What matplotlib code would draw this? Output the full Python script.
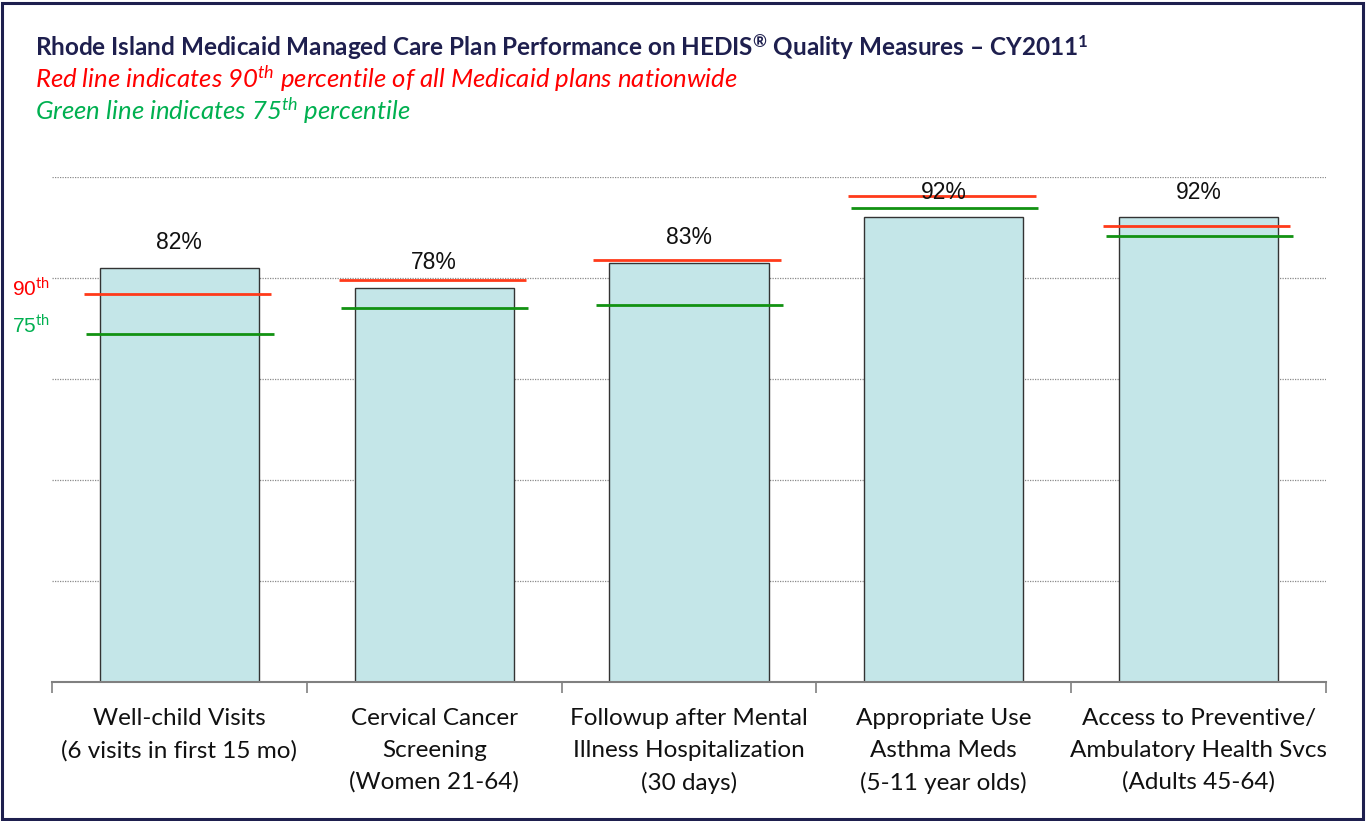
# hedis_bars.py
# RI Medicaid plan performance vs national percentiles
import matplotlib
matplotlib.use("Agg")
import matplotlib.pyplot as plt
from matplotlib.patches import Rectangle
import matplotlib.transforms as mtrans

plt.rcParams["font.family"] = ["Lato", "DejaVu Sans"]
plt.rcParams["mathtext.fontset"] = "custom"
plt.rcParams["mathtext.rm"] = "Lato"
plt.rcParams["mathtext.it"] = "Lato:italic"
plt.rcParams["mathtext.bf"] = "Lato:bold"

categories = [
    "Well-child Visits\n(6 visits in first 15 mo)\n",
    "Cervical Cancer\nScreening\n(Women 21-64)",
    "Followup after Mental\nIllness Hospitalization\n(30 days)",
    "Appropriate Use\nAsthma Meds\n(5-11 year olds)",
    "Access to Preventive/\nAmbulatory Health Svcs\n(Adults 45-64)",
]
plan_rate = [82, 78, 83, 92, 92]          # bar values, %
p90 = [76.8, 79.6, 83.6, 96.2, 90.3]      # red lines
p75 = [68.9, 74.1, 74.7, 93.9, 88.3]      # green lines
yticks = [20, 40, 60, 80, 100]

NAVY = "#1E1F4E"
BAR_FILL = "#C4E6E8"
RED_LINE = "#FF3A1A"
GREEN_LINE = "#129212"
RED_TXT = "#FF0000"
GREEN_TXT = "#00B050"

W, H = 1366, 821
fig = plt.figure(figsize=(W / 100, H / 100), dpi=100)
ax = fig.add_axes([52 / W, 1 - 682 / H, (1326 - 52) / W, (682 - 177) / H])

x = list(range(len(categories)))
ax.bar(x, plan_rate, width=0.625, color=BAR_FILL, edgecolor="#333333",
       linewidth=1.0, zorder=2)
ax.hlines(p90, [i - 0.375 for i in x], [i + 0.36 for i in x],
          colors=RED_LINE, linewidth=2, zorder=3)
ax.hlines(p75, [i - 0.365 for i in x], [i + 0.37 for i in x],
          colors=GREEN_LINE, linewidth=2, zorder=3)

for i, v in zip(x, plan_rate):
    ax.annotate(f"{v}%", (i, v), xytext=(0, 10), textcoords="offset points",
                ha="center", va="bottom", fontsize=16.5,
                family="Liberation Sans", color="#111111", zorder=4)

ax.set_xlim(-0.5, len(categories) - 0.5)
ax.set_ylim(0, 100)
ax.set_yticks(yticks)
ax.yaxis.grid(True, linestyle=(0, (1, 1)), color="#8a8a8a", linewidth=0.9)
ax.set_axisbelow(True)
ax.tick_params(axis="y", length=0, labelleft=False)

ax.set_xticks(x)
ax.set_xticklabels(categories, fontsize=17.5, color="#111111",
                   linespacing=1.6, va="top")
ax.tick_params(axis="x", which="major", length=0, pad=19)
ax.set_xticks([i - 0.5 for i in range(len(categories) + 1)], minor=True)
ax.tick_params(axis="x", which="minor", length=8, width=1.2,
               color="#808080", direction="out")

for s in ["left", "right", "top"]:
    ax.spines[s].set_visible(False)
ax.spines["bottom"].set_color("#808080")
ax.spines["bottom"].set_linewidth(1.5)

# percentile tags at the left edge
tr = mtrans.blended_transform_factory(fig.transFigure, ax.transData)
ax.text(12 / W, 78.0, r"90$^{\mathrm{th}}$", transform=tr, fontsize=15,
        family="Liberation Sans", color=RED_TXT, va="center", ha="left")
ax.text(12 / W, 70.5, r"75$^{\mathrm{th}}$", transform=tr, fontsize=15,
        family="Liberation Sans", color=GREEN_TXT, va="center", ha="left")

# header
fig.text(35 / W, 1 - 47 / H,
         r"Rhode Island Medicaid Managed Care Plan Performance on HEDIS$^{\mathbf{®}}$"
         r" Quality Measures – CY2011$^{\mathbf{1}}$",
         fontsize=17.5, fontweight="bold", color=NAVY, va="center")
fig.text(35 / W, 1 - 79 / H,
         r"Red line indicates 90$^{th}$ percentile of all Medicaid plans nationwide",
         fontsize=18.5, style="italic", color=RED_TXT, va="center")
fig.text(35 / W, 1 - 111 / H,
         r"Green line indicates 75$^{th}$ percentile",
         fontsize=18.5, style="italic", color=GREEN_TXT, va="center")

fig.patches.append(Rectangle((2 / W, 2 / H), 1 - 5 / W, 1 - 5 / H,
                             transform=fig.transFigure, fill=False,
                             edgecolor=NAVY, linewidth=2.2))

fig.savefig("out.png", dpi=100)
